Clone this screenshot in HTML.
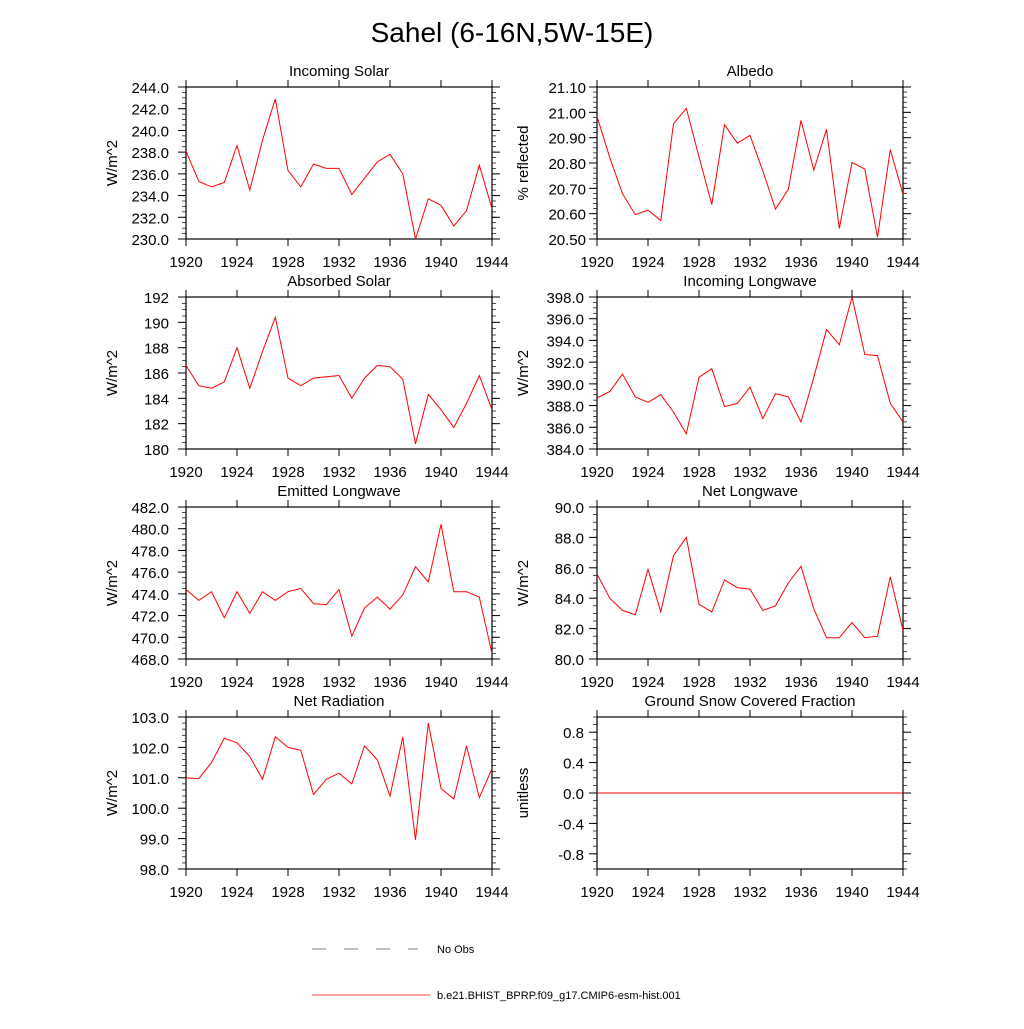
<!DOCTYPE html>
<html><head><meta charset="utf-8"><style>
html,body{margin:0;padding:0;background:#fff}
svg text{font-family:"Liberation Sans",sans-serif;fill:#000}
</style></head><body>
<svg id="c" width="1024" height="1024" xmlns="http://www.w3.org/2000/svg">
<text x="512" y="42" font-size="28" text-anchor="middle">Sahel (6-16N,5W-15E)</text>
<g>
<line x1="312" y1="949" x2="418" y2="949" stroke="#555" stroke-width="0.8" stroke-dasharray="14,18"/>
<text x="437" y="953" font-size="11">No Obs</text>
<line x1="312" y1="995" x2="430" y2="995" stroke="#f00" stroke-width="0.8"/>
<text x="437" y="999" font-size="11">b.e21.BHIST_BPRP.f09_g17.CMIP6-esm-hist.001</text>
</g>
</svg>
<script>
const years=[1920,1921,1922,1923,1924,1925,1926,1927,1928,1929,1930,1931,1932,1933,1934,1935,1936,1937,1938,1939,1940,1941,1942,1943,1944];
const xTicks=[1920,1924,1928,1932,1936,1940,1944];
const incomingSolar=[238.1,235.3,234.8,235.2,238.6,234.5,239.1,242.9,236.3,234.8,236.9,236.5,236.5,234.1,235.6,237.1,237.8,236.0,230.0,233.7,233.1,231.2,232.6,236.8,232.8];
const albedo=[20.984,20.821,20.679,20.596,20.614,20.573,20.955,21.016,20.824,20.636,20.951,20.878,20.909,20.769,20.618,20.696,20.968,20.772,20.933,20.542,20.802,20.776,20.507,20.853,20.677];
const absorbedSolar=[186.6,185.0,184.8,185.3,188.0,184.8,187.7,190.4,185.6,185.0,185.6,185.7,185.8,184.0,185.6,186.6,186.5,185.5,180.4,184.3,183.1,181.7,183.6,185.8,183.1];
const incomingLongwave=[388.7,389.3,390.9,388.8,388.3,389.0,387.4,385.4,390.6,391.4,387.9,388.2,389.7,386.8,389.1,388.8,386.5,390.6,395.0,393.6,398.0,392.7,392.6,388.2,386.5];
const emittedLongwave=[474.4,473.4,474.2,471.8,474.2,472.2,474.2,473.4,474.2,474.5,473.1,473.0,474.4,470.1,472.7,473.7,472.6,473.9,476.5,475.1,480.4,474.2,474.2,473.7,468.5];
const netLongwave=[85.6,84.0,83.2,82.9,85.9,83.1,86.8,88.0,83.6,83.1,85.2,84.7,84.6,83.2,83.5,85.0,86.1,83.3,81.4,81.4,82.4,81.4,81.5,85.4,81.9];
const netRadiation=[101.0,100.97,101.5,102.3,102.15,101.7,100.95,102.35,102.0,101.9,100.45,100.95,101.15,100.8,102.05,101.6,100.4,102.35,98.95,102.8,100.65,100.3,102.05,100.35,101.3];
const snowFraction=[0,0,0,0,0,0,0,0,0,0,0,0,0,0,0,0,0,0,0,0,0,0,0,0,0];
const ticksSolar=[230,232,234,236,238,240,242,244];
const ticksAlbedo=[20.5,20.6,20.7,20.8,20.9,21.0,21.1];
const ticksAbs=[180,182,184,186,188,190,192];
const ticksILW=[384,386,388,390,392,394,396,398];
const ticksELW=[468,470,472,474,476,478,480,482];
const ticksNLW=[80,82,84,86,88,90];
const ticksNR=[98,99,100,101,102,103];
const ticksSnow=[-0.8,-0.4,0,0.4,0.8];

const svg=document.getElementById('c');
const NS='http://www.w3.org/2000/svg';
function mk(tag,attrs,parent){const e=document.createElementNS(NS,tag);for(const k in attrs)e.setAttribute(k,attrs[k]);parent.appendChild(e);return e;}
function panel(name,title,ylab,vals,ticks,ymin,ymax,dec,minorN,x0,y0,gap){
  const W=306,H=152,x1=x0+W,y1=y0+H;
  const g=mk('g',{},svg);
  
  
  const xs=v=>x0+(v-1920)/(1944-1920)*W;
  const ys=v=>y1-(v-ymin)/(ymax-ymin)*H;
  const t=mk('text',{x:x0+W/2,y:y0-11,'font-size':15,'text-anchor':'middle'},g);t.textContent=title;
  
  
  const yl=mk('text',{x:0,y:0,'font-size':15,'text-anchor':'middle',transform:`translate(${x0-69},${y0+H/2}) rotate(-90)`},g);yl.textContent=ylab;
  
  
  mk('rect',{x:x0,y:y0,width:W,height:H,fill:'none',stroke:'#000','stroke-width':1.2},g);
  xTicks.forEach(v=>{const x=xs(v);
    mk('line',{x1:x,y1:y1,x2:x,y2:y1+7,stroke:'#000'},g);
    mk('line',{x1:x,y1:y0,x2:x,y2:y0-7,stroke:'#000'},g);
    const tl=mk('text',{x:x,y:y1+28,'font-size':15,'text-anchor':'middle'},g);tl.textContent=v;
    
    
  });
  const step=ticks[1]-ticks[0];
  for(let i=0;i<ticks.length;i++){const v=ticks[i];const y=ys(v);
    mk('line',{x1:x0,y1:y,x2:x0-8,y2:y,stroke:'#000'},g);
    mk('line',{x1:x1,y1:y,x2:x1+8,y2:y,stroke:'#000'},g);
    const tl=mk('text',{x:x0-gap,y:y+6,'font-size':15,'text-anchor':'end'},g);tl.textContent=v.toFixed(dec);
    
    
  }
  const lo=ticks[0]-step,hi=ticks[ticks.length-1]+step;
  for(let v=lo;v<=hi+1e-9;v+=step/minorN){if(v<ymin-1e-9||v>ymax+1e-9)continue;const y=ys(v);
    mk('line',{x1:x0,y1:y,x2:x0-4,y2:y,stroke:'#000','stroke-width':0.7},g);
    mk('line',{x1:x1,y1:y,x2:x1+4,y2:y,stroke:'#000','stroke-width':0.7},g);}
  const pts=vals.map((v,i)=>xs(years[i]).toFixed(1)+','+ys(v).toFixed(1)).join(' ');
  const pl=mk('polyline',{points:pts,fill:'none',stroke:'#f00','stroke-width':1},g);
  
  
}
panel('incoming-solar','Incoming Solar','W/m^2',incomingSolar,ticksSolar,230,244,1,4,186,87,17);
panel('albedo','Albedo','% reflected',albedo,ticksAlbedo,20.5,21.1,2,5,597,87,11);
panel('absorbed-solar','Absorbed Solar','W/m^2',absorbedSolar,ticksAbs,180,192,0,4,186,297,17);
panel('incoming-longwave','Incoming Longwave','W/m^2',incomingLongwave,ticksILW,384,398,1,4,597,297,13);
panel('emitted-longwave','Emitted Longwave','W/m^2',emittedLongwave,ticksELW,468,482,1,4,186,507,17);
panel('net-longwave','Net Longwave','W/m^2',netLongwave,ticksNLW,80,90,1,4,597,507,13);
panel('net-radiation','Net Radiation','W/m^2',netRadiation,ticksNR,98,103,1,5,186,717,17);
panel('snow-fraction','Ground Snow Covered Fraction','unitless',snowFraction,ticksSnow,-1,1,1,4,597,717,13);
</script>
</body></html>
